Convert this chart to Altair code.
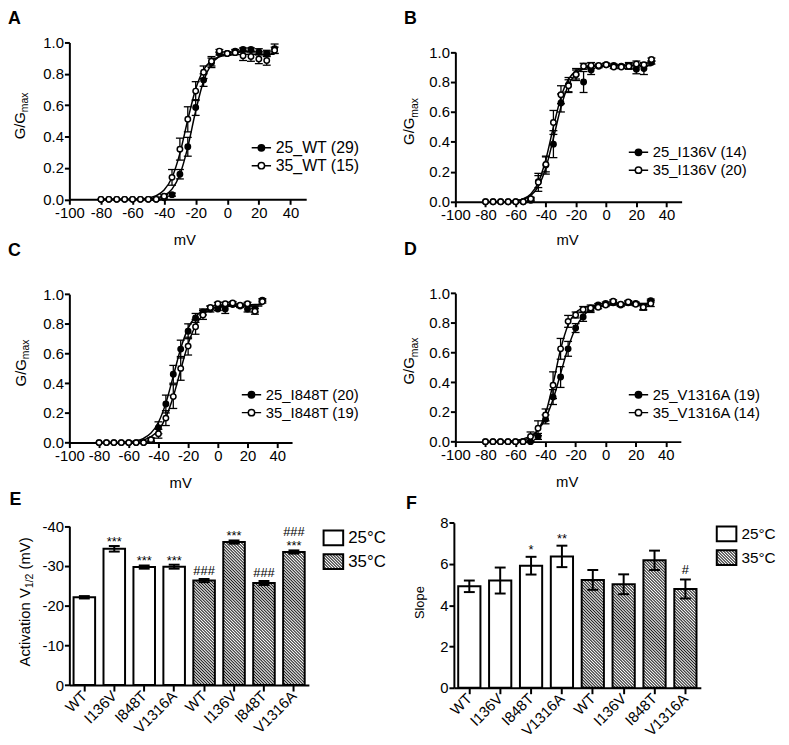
import json
import altair as alt
import pandas as pd

FONT = "Liberation Sans"
W, H = 781, 737
MINUS_FIX = "replace(datum.label, '\u2212', '-')"

# ---------------- data: G/Gmax vs voltage (panels A-D) ----------------
VOLTS = [-80, -75, -70, -65, -60, -55, -50, -45, -40, -35, -30, -25, -20,
         -15, -10, -5, 0, 5, 10, 15, 20, 25, 30]

A_NAMES = ["25_WT (29)", "35_WT (15)"]
A_25 = [0, 0, 0, 0, 0, 0, 0, 0.0, 0.01, 0.03, 0.16, 0.335, 0.585, 0.76, 0.87, 0.93, 0.93, 0.945, 0.955, 0.955, 0.94, 0.93, 0.96]
A_25_SEM = [0, 0, 0, 0, 0, 0, 0, 0.005, 0.01, 0.01, 0.03, 0.06, 0.05, 0.04, 0.03, 0.01, 0.01, 0.01, 0.01, 0.01, 0.02, 0.02, 0.03]
A_35 = [0, 0, 0, 0, 0, 0, 0, 0.0, 0.02, 0.14, 0.32, 0.51, 0.69, 0.81, 0.88, 0.945, 0.93, 0.935, 0.915, 0.91, 0.895, 0.885, 0.95]
A_35_SEM = [0, 0, 0, 0, 0, 0, 0, 0.005, 0.01, 0.05, 0.07, 0.08, 0.06, 0.04, 0.03, 0.01, 0.01, 0.01, 0.03, 0.03, 0.03, 0.03, 0.02]
A_FIT25 = [0, 0, 0, 0, 0.0005, 0.0013, 0.0034, 0.0094, 0.025, 0.065, 0.158, 0.333, 0.563, 0.754, 0.862, 0.910, 0.929, 0.936, 0.939, 0.94, 0.94, 0.94, 0.94]
A_FIT35 = [0, 0, 0, 0.0005, 0.0013, 0.0035, 0.009, 0.023, 0.059, 0.139, 0.293, 0.507, 0.703, 0.825, 0.884, 0.909, 0.918, 0.922, 0.924, 0.925, 0.925, 0.925, 0.925]

B_NAMES = ["25_I136V (14)", "35_I136V (20)"]
B_25 = [0, 0, 0, 0, 0, 0, 0.01, 0.135, 0.245, 0.385, 0.66, 0.78, 0.85, 0.80, 0.88, 0.905, 0.915, 0.91, 0.905, 0.91, 0.885, 0.89, 0.93]
B_25_SEM = [0, 0, 0, 0, 0, 0, 0.01, 0.04, 0.06, 0.09, 0.06, 0.05, 0.04, 0.07, 0.03, 0.01, 0.01, 0.01, 0.01, 0.02, 0.03, 0.04, 0.01]
B_35 = [0, 0, 0, 0, 0, 0, 0.02, 0.13, 0.25, 0.53, 0.715, 0.775, 0.85, 0.905, 0.91, 0.91, 0.915, 0.90, 0.90, 0.905, 0.92, 0.915, 0.95]
B_35_SEM = [0, 0, 0, 0, 0, 0, 0.01, 0.06, 0.05, 0.08, 0.06, 0.04, 0.03, 0.02, 0.02, 0.01, 0.01, 0.01, 0.01, 0.02, 0.02, 0.01, 0.01]
B_FIT25 = [0.0002, 0.0004, 0.001, 0.0025, 0.0065, 0.017, 0.042, 0.103, 0.228, 0.424, 0.633, 0.780, 0.855, 0.888, 0.902, 0.906, 0.909, 0.91, 0.91, 0.91, 0.91, 0.91, 0.91]
B_FIT35 = [0.0002, 0.0004, 0.001, 0.0027, 0.0074, 0.020, 0.052, 0.129, 0.284, 0.50, 0.699, 0.819, 0.874, 0.896, 0.905, 0.908, 0.909, 0.91, 0.91, 0.91, 0.91, 0.91, 0.91]

C_NAMES = ["25_I848T (20)", "35_I848T (19)"]
C_25 = [0, 0, 0, 0, 0, 0, 0, 0.02, 0.10, 0.26, 0.46, 0.63, 0.75, 0.84, 0.88, 0.90, 0.90, 0.90, 0.93, 0.92, 0.90, 0.90, 0.96]
C_25_SEM = [0, 0, 0, 0, 0, 0, 0, 0.01, 0.04, 0.06, 0.06, 0.06, 0.05, 0.03, 0.02, 0.02, 0.01, 0.03, 0.01, 0.01, 0.02, 0.02, 0.01]
C_35 = [0, 0, 0, 0, 0, 0, 0, 0.02, 0.06, 0.165, 0.31, 0.50, 0.65, 0.78, 0.86, 0.91, 0.935, 0.935, 0.94, 0.925, 0.935, 0.885, 0.95]
C_35_SEM = [0, 0, 0, 0, 0, 0, 0, 0.01, 0.03, 0.05, 0.08, 0.08, 0.06, 0.05, 0.03, 0.01, 0.01, 0.01, 0.01, 0.01, 0.01, 0.02, 0.01]
C_FIT25 = [0.0002, 0.0004, 0.001, 0.0023, 0.0054, 0.0125, 0.029, 0.064, 0.137, 0.266, 0.448, 0.634, 0.771, 0.850, 0.888, 0.906, 0.914, 0.917, 0.918, 0.919, 0.92, 0.92, 0.92]
C_FIT35 = [0.0001, 0.0003, 0.0007, 0.0016, 0.0037, 0.0082, 0.018, 0.040, 0.084, 0.17, 0.31, 0.491, 0.665, 0.789, 0.861, 0.898, 0.915, 0.923, 0.927, 0.928, 0.929, 0.93, 0.93]

D_NAMES = ["25_V1316A (19)", "35_V1316A (14)"]
D_25 = [0, 0, 0, 0, 0, 0, 0.0, 0.035, 0.15, 0.30, 0.435, 0.625, 0.765, 0.84, 0.89, 0.92, 0.93, 0.935, 0.92, 0.935, 0.93, 0.91, 0.95]
D_25_SEM = [0, 0, 0, 0, 0, 0, 0.005, 0.02, 0.03, 0.05, 0.07, 0.05, 0.03, 0.03, 0.02, 0.01, 0.01, 0.01, 0.01, 0.01, 0.01, 0.02, 0.01]
D_35 = [0, 0, 0, 0, 0, 0, 0.035, 0.09, 0.18, 0.38, 0.625, 0.81, 0.853, 0.89, 0.90, 0.905, 0.92, 0.945, 0.925, 0.94, 0.925, 0.905, 0.93]
D_35_SEM = [0, 0, 0, 0, 0, 0, 0.03, 0.05, 0.04, 0.09, 0.07, 0.04, 0.02, 0.02, 0.02, 0.01, 0.01, 0.01, 0.01, 0.01, 0.01, 0.02, 0.02]
D_FIT25 = [0.0003, 0.0008, 0.0017, 0.0038, 0.0082, 0.018, 0.038, 0.079, 0.157, 0.286, 0.458, 0.632, 0.765, 0.846, 0.890, 0.911, 0.921, 0.926, 0.928, 0.929, 0.93, 0.93, 0.93]
D_FIT35 = [0.0001, 0.0002, 0.0005, 0.0013, 0.0037, 0.0103, 0.0287, 0.077, 0.189, 0.389, 0.621, 0.786, 0.868, 0.901, 0.913, 0.917, 0.919, 0.92, 0.92, 0.92, 0.92, 0.92, 0.92]

# ---------------- data: bar panels (E, F) ----------------
TEMPS = ["25°C", "35°C"]
MUTANTS = ["WT", "I136V", "I848T", "V1316A"]
E_V12_25 = [-22.1, -34.3, -29.7, -29.8]
E_SEM_25 = [0.3, 0.7, 0.4, 0.5]
E_V12_35 = [-26.3, -36.0, -25.7, -33.5]
E_SEM_35 = [0.4, 0.4, 0.5, 0.4]
E_STAR = ["", "***", "***", "***", "", "***", "", "***"]
E_HASH = ["", "", "", "", "###", "", "###", "###"]

F_SLOPE_25 = [4.92, 5.20, 5.92, 6.37]
F_SEM_25 = [0.28, 0.63, 0.43, 0.52]
F_SLOPE_35 = [5.23, 5.02, 6.18, 4.79]
F_SEM_35 = [0.48, 0.48, 0.47, 0.46]
F_STAR = ["", "", "*", "**", "", "", "", ""]
F_HASH = ["", "", "", "", "", "", "", "#"]

# ---------------- styling helpers ----------------
AX = dict(grid=False, domainColor="black", domainWidth=2, tickColor="black", tickWidth=2,
          tickSize=5, labelColor="black", labelFont=FONT, labelFontSize=15, labelPadding=1,
          labelFlush=False, labelOverlap=False, title=None)

LINE_SYM = ("M-1.15,0L-0.38,0M0.38,0L1.15,0M-0.38,0A0.38,0.38,0,1,1,0.38,0"
            "A0.38,0.38,0,1,1,-0.38,0Z")
RECT_SYM = "M-1.1,-0.83L1.1,-0.83L1.1,0.83L-1.1,0.83Z"


def hatch(w, h, span=168.0, n=56, dark="#1c1c1c", light="#ffffff"):
    """Diagonal hatch as a linear gradient: n soft stripes over `span` px of (x - y)."""
    d2 = w * w + h * h
    stops = []
    for k in range(n):
        stops += [{"offset": round(k / n, 6), "color": dark},
                  {"offset": round((k + 0.5) / n, 6), "color": light}]
    stops.append({"offset": 1, "color": dark})
    return {"gradient": "linear", "x1": 0, "y1": 1,
            "x2": round(span * w / d2, 6), "y2": round(1 - span * h / d2, 6), "stops": stops}


DUMMY = pd.DataFrame({"d": [0]})


def label(text, x, y, size=15, **kw):
    return alt.Chart(DUMMY).mark_text(text=text, font=FONT, fontSize=size, color="black", **kw).encode(
        x=alt.value(x), y=alt.value(y))


def iv_panel(m25, s25, m35, s35, f25, f35, names, xr, yr, leg, legfs):
    rows = []
    for name, m, s, f in ((names[0], m25, s25, f25), (names[1], m35, s35, f35)):
        for v, g, e, fv in zip(VOLTS, m, s, f):
            rows.append({"v": v, "g": g, "e": e, "lo": g - e, "hi": g + e, "fit": fv, "series": name})
    df = pd.DataFrame(rows)
    xs = alt.Scale(domain=[-100, 50], range=[xr[0], xr[1]], nice=False, zero=False)
    ys = alt.Scale(domain=[0, 1], range=[yr[0], yr[1]], nice=False, zero=False)
    ax_x = alt.Axis(orient="bottom", offset=yr[0] - H, values=list(range(-100, 41, 20)),
                    labelExpr=MINUS_FIX, **AX)
    ax_y = alt.Axis(orient="left", offset=-xr[0], values=[0, 0.2, 0.4, 0.6, 0.8, 1.0],
                    format=".1f", **AX)
    base = alt.Chart(df)
    xq = alt.X("v:Q", scale=xs, axis=None)
    line = base.mark_line(color="black", strokeWidth=1.5, interpolate="monotone").encode(
        x=alt.X("v:Q", scale=xs, axis=ax_x), y=alt.Y("fit:Q", scale=ys, axis=ax_y), detail="series:N")
    eb = base.transform_filter("datum.e > 0.004")
    rule = eb.mark_rule(color="black", strokeWidth=1.3).encode(
        x=xq, y=alt.Y("lo:Q", scale=ys, axis=None), y2="hi:Q")
    cap_lo = eb.mark_tick(color="black", orient="horizontal", size=8, thickness=1.3, opacity=1).encode(
        x=xq, y=alt.Y("lo:Q", scale=ys, axis=None))
    cap_hi = eb.mark_tick(color="black", orient="horizontal", size=8, thickness=1.3, opacity=1).encode(
        x=xq, y=alt.Y("hi:Q", scale=ys, axis=None))
    legend = alt.Legend(orient="none", legendX=leg[0], legendY=leg[1], title=None,
                        symbolType=LINE_SYM, symbolSize=289, symbolStrokeColor="black",
                        symbolStrokeWidth=1.5, symbolOpacity=1, labelFont=FONT,
                        labelFontSize=legfs, labelColor="black", labelOffset=5,
                        padding=0, rowPadding=0)
    pts = base.mark_point(shape="circle", filled=True, size=30, stroke="black", strokeWidth=1.5,
                          opacity=1).encode(
        x=xq, y=alt.Y("g:Q", scale=ys, axis=None),
        fill=alt.Fill("series:N", scale=alt.Scale(domain=names, range=["black", "white"]),
                      legend=legend))
    return [line, rule, cap_lo, cap_hi, pts]


LEG_FILL = alt.ExprRef(expr="datum.value == '35°C' ? " + json.dumps(hatch(19.8, 15)) + " : 'white'")


def bar_panel(v25, s25, v35, s35, stars, hashes, xr, yr, ydom, yvals, yexpr, leg, legfs,
              star_dy, hash_dy, hash2_dy):
    keys = [f"{m}|25" for m in MUTANTS] + [f"{m}|35" for m in MUTANTS]
    temps = [TEMPS[0]] * 4 + [TEMPS[1]] * 4
    rows = []
    for k, t, v, s, st, hs in zip(keys, temps, v25 + v35, s25 + s35, stars, hashes):
        top = v - s if v < 0 else v + s
        rows.append({"key": k, "temp": t, "val": v, "sem": s, "lo": v - s, "hi": v + s,
                     "top": top, "base": 0, "star": st, "hash": hs})
    df = pd.DataFrame(rows)
    pin, pout = 0.28, 0.14
    xs = alt.Scale(domain=keys, range=[xr[0], xr[1]], paddingInner=pin, paddingOuter=pout)
    ys = alt.Scale(domain=ydom, range=[yr[0], yr[1]], nice=False, zero=False)
    step = (xr[1] - xr[0]) / (len(keys) - pin + 2 * pout)
    bw = step * (1 - pin)
    pxu = (yr[0] - yr[1]) / abs(ydom[1] - ydom[0])
    ax_x = alt.Axis(orient="bottom", offset=yr[0] - H, labelExpr="split(datum.label, '|')[0]",
                    labelAngle=315, labelAlign="right", labelBaseline="middle",
                    **{**AX, "tickSize": 6, "labelPadding": 2})
    ay_kw = dict(orient="left", offset=-xr[0], values=yvals, **AX)
    if yexpr:
        ay_kw["labelExpr"] = yexpr
    ax_y = alt.Axis(**ay_kw)
    base = alt.Chart(df)
    xk = alt.X("key:N", scale=xs, axis=None)
    layers = [base.transform_filter("datum.temp == '25°C'").mark_bar(
        fill="white", stroke="black", strokeWidth=2, opacity=1).encode(
        x=alt.X("key:N", scale=xs, axis=ax_x), y=alt.Y("val:Q", scale=ys, axis=ax_y), y2="base:Q")]
    for k, v in zip(keys[4:], v35):
        layers.append(base.transform_filter(f"datum.key == '{k}'").mark_bar(
            fill=hatch(bw, abs(v) * pxu), stroke="black", strokeWidth=2, opacity=1).encode(
            x=xk, y=alt.Y("val:Q", scale=ys, axis=None), y2="base:Q"))
    layers.append(base.mark_rule(color="black", strokeWidth=2).encode(
        x=xk, y=alt.Y("lo:Q", scale=ys, axis=None), y2="hi:Q"))
    for col in ("lo", "hi"):
        layers.append(base.mark_tick(color="black", orient="horizontal", size=11, thickness=2,
                                     opacity=1).encode(x=xk, y=alt.Y(f"{col}:Q", scale=ys, axis=None)))
    tkw = dict(font=FONT, fontSize=13, color="black", baseline="alphabetic", align="center")
    layers.append(base.transform_filter("datum.star != ''").mark_text(dy=star_dy, **tkw).encode(
        x=xk, y=alt.Y("top:Q", scale=ys, axis=None), text="star:N"))
    layers.append(base.transform_filter("datum.hash != '' && datum.star == ''").mark_text(
        dy=hash_dy, **tkw).encode(x=xk, y=alt.Y("top:Q", scale=ys, axis=None), text="hash:N"))
    layers.append(base.transform_filter("datum.hash != '' && datum.star != ''").mark_text(
        dy=hash2_dy, **tkw).encode(x=xk, y=alt.Y("top:Q", scale=ys, axis=None), text="hash:N"))
    legend = alt.Legend(orient="none", legendX=leg[0], legendY=leg[1], title=None,
                        symbolSize=324, symbolStrokeColor="black", symbolStrokeWidth=2,
                        symbolOpacity=1, symbolFillColor=LEG_FILL, labelFont=FONT,
                        labelFontSize=legfs, labelColor="black", labelOffset=5,
                        padding=0, rowPadding=0)
    layers.append(base.transform_filter("false").mark_point(
        filled=True, stroke="black", strokeWidth=2, opacity=1).encode(
        x=xk, y=alt.Y("val:Q", scale=ys, axis=None),
        fill=alt.Fill("temp:N", legend=None),
        shape=alt.Shape("temp:N", scale=alt.Scale(domain=TEMPS, range=[RECT_SYM, RECT_SYM]),
                        legend=legend)))
    return layers


def ggmax(bx, by):
    return [label("G/G", bx, by, 15, angle=270, align="left", baseline="alphabetic"),
            label("max", bx, by, 10.5, angle=270, align="left", baseline="alphabetic",
                  dx=27.5, dy=3.5)]


layers = []
layers += iv_panel(A_25, A_25_SEM, A_35, A_35_SEM, A_FIT25, A_FIT35, A_NAMES,
                   (62, 301.3), (189.5, 31), (246.5, 128), 16)
layers += iv_panel(B_25, B_25_SEM, B_35, B_35_SEM, B_FIT25, B_FIT35, B_NAMES,
                   (452, 680.6), (192, 40.7), (627.5, 132.5), 15)
layers += iv_panel(C_25, C_25_SEM, C_35, C_35_SEM, C_FIT25, C_FIT35, C_NAMES,
                   (62, 287), (435.3, 285.3), (236.5, 377.5), 15)
layers += iv_panel(D_25, D_25_SEM, D_35, D_35_SEM, D_FIT25, D_FIT35, D_NAMES,
                   (452, 679.8), (434.3, 284.3), (627.5, 377.5), 15)
layers += bar_panel(E_V12_25, E_SEM_25, E_V12_35, E_SEM_35, E_STAR, E_HASH,
                    (62, 304), (680.3, 519.7), [0, -40], [0, -10, -20, -30, -40], MINUS_FIX,
                    (318.75, 521.5), 17, 0, -4.5, -14.5)
layers += bar_panel(F_SLOPE_25, F_SEM_25, F_SLOPE_35, F_SEM_35, F_STAR, F_HASH,
                    (450.5, 700), (683, 516.3), [0, 8], [0, 2, 4, 6, 8], None,
                    (716, 517.5), 15.5, -2.5, -5.5, -15)

# axis titles
for x, y in ((178.7, 231), (565.3, 231), (174.5, 476), (565, 475.5)):
    layers.append(label("mV", x, y, 15, align="center", baseline="middle"))
layers += ggmax(17, 128.9)
layers += ggmax(410.4, 134.5)
layers += ggmax(18.2, 378.5)
layers += ggmax(410.7, 376.5)
layers += [label("Activation V", 22, 661.5, 15, angle=270, align="left", baseline="alphabetic"),
           label("1/2", 22, 661.5, 10.5, angle=270, align="left", baseline="alphabetic",
                 dx=79.2, dy=3.5),
           label("(mV)", 22, 661.5, 15, angle=270, align="left", baseline="alphabetic", dx=98.0)]
layers.append(label("Slope", 420.5, 597, 13, angle=270, align="center", baseline="alphabetic"))

# panel letters
for t, x, y in (("A", 0, 7), ("B", 400, 7), ("C", 0, 242), ("D", 400, 241),
                ("E", 1.5, 493.7), ("F", 402, 497.8)):
    layers.append(label(t, x, y, 18, fontWeight="bold", align="left", baseline="middle"))

chart = alt.layer(*layers).properties(
    width=W, height=H, padding=0, autosize=alt.AutoSizeParams(type="none")
).resolve_scale(x="independent", y="independent", fill="independent",
                shape="independent").resolve_legend(
    fill="independent", shape="independent").configure(font=FONT, background="white").configure_view(
    stroke=None)

chart.save("out.html", embed_options={"renderer": "svg", "actions": False})
